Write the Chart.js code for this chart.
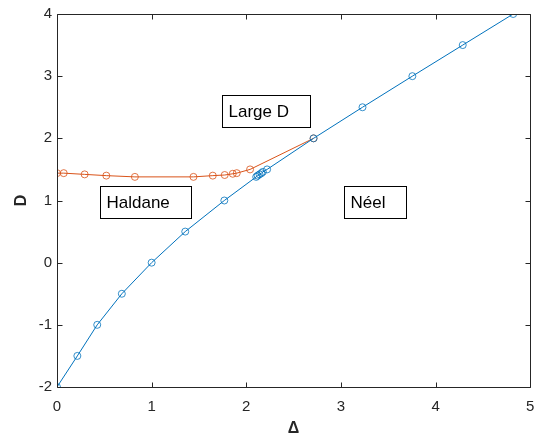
<!DOCTYPE html>
<html>
<head>
<meta charset="utf-8">
<script src="https://cdn.jsdelivr.net/npm/chart.js@4"></script>
<style>
  html, body { margin: 0; padding: 0; background: #fff; }
  #wrap { width: 535px; height: 436px; }
</style>
</head>
<body>
<div id="wrap"><canvas id="phaseChart"></canvas></div>
<script>
// phase boundary lines (Delta, D)
var blueDelta = [0, 0.215, 0.425, 0.685, 1.0, 1.355, 1.768, 2.105, 2.12, 2.14, 2.16, 2.175, 2.22, 2.711, 3.228, 3.755, 4.287, 4.82];
var blueD     = [-2, -1.5, -1, -0.5, 0, 0.5, 1.0, 1.38, 1.40, 1.42, 1.44, 1.46, 1.50, 2.0, 2.5, 3.0, 3.5, 4.0];
var orangeDelta = [0, 0.071, 0.292, 0.521, 0.823, 1.442, 1.646, 1.772, 1.857, 1.899, 2.04, 2.711];
var orangeD     = [1.44, 1.44, 1.42, 1.40, 1.38, 1.38, 1.40, 1.41, 1.43, 1.44, 1.50, 2.0];

var xTicks = [0, 1, 2, 3, 4, 5];
var yTicks = [-2, -1, 0, 1, 2, 3, 4];

// phase labels: text, box corners in data units
var phaseNames = ['Large D', 'Haldane', 'Néel'];
var phaseBoxX  = [[1.74, 2.67], [0.455, 1.415], [3.03, 3.69]];
var phaseBoxY  = [[2.70, 2.19], [1.24, 0.72], [1.24, 0.72]];

function toPoints(xs, ys) {
  return xs.map(function (x, i) { return { x: x, y: ys[i] }; });
}

var axisColor = '#262626';
var fontFamily = 'Liberation Sans, Arial, Helvetica, sans-serif';

var matlabAxes = {
  id: 'matlabAxes',
  afterDatasetsDraw: function (chart) {
    var ctx = chart.ctx;
    var a = chart.chartArea;
    var xs = chart.scales.x, ys = chart.scales.y;
    ctx.save();
    // text boxes
    ctx.font = '17px ' + fontFamily;
    ctx.textBaseline = 'middle';
    ctx.textAlign = 'left';
    phaseNames.forEach(function (name, i) {
      var x0 = Math.round(xs.getPixelForValue(phaseBoxX[i][0])) + 0.5;
      var x1 = Math.round(xs.getPixelForValue(phaseBoxX[i][1])) + 0.5;
      var y0 = Math.round(ys.getPixelForValue(phaseBoxY[i][0])) + 0.5;
      var y1 = Math.round(ys.getPixelForValue(phaseBoxY[i][1])) + 0.5;
      ctx.fillStyle = '#fff';
      ctx.fillRect(x0, y0, x1 - x0, y1 - y0);
      ctx.strokeStyle = '#000';
      ctx.lineWidth = 1;
      ctx.strokeRect(x0, y0, x1 - x0, y1 - y0);
      ctx.fillStyle = '#000';
      ctx.fillText(name, x0 + 6, (y0 + y1) / 2 + 1);
    });
    // box and inward ticks
    ctx.strokeStyle = axisColor;
    ctx.lineWidth = 1;
    var L = Math.round(a.left) + 0.5, R = Math.round(a.right) + 0.5;
    var T = Math.round(a.top) + 0.5, B = Math.round(a.bottom) + 0.5;
    ctx.beginPath();
    ctx.rect(L, T, R - L, B - T);
    xTicks.forEach(function (v) {
      var p = Math.round(xs.getPixelForValue(v)) + 0.5;
      ctx.moveTo(p, B); ctx.lineTo(p, B - 5);
      ctx.moveTo(p, T); ctx.lineTo(p, T + 5);
    });
    yTicks.forEach(function (v) {
      var p = Math.round(ys.getPixelForValue(v)) + 0.5;
      ctx.moveTo(L, p); ctx.lineTo(L + 5, p);
      ctx.moveTo(R, p); ctx.lineTo(R - 5, p);
    });
    ctx.stroke();
    ctx.restore();
  }
};

var ctx = document.getElementById('phaseChart').getContext('2d');
new Chart(ctx, {
  type: 'scatter',
  data: {
    datasets: [{
      label: 'Haldane / Néel',
      data: toPoints(blueDelta, blueD),
      showLine: true,
      borderColor: '#0072BD',
      backgroundColor: 'rgba(0,0,0,0)',
      pointBorderColor: '#0072BD',
      borderWidth: 1,
      pointRadius: 3.5,
      pointBorderWidth: 0.8,
      tension: 0
    }, {
      label: 'Haldane / Large D',
      data: toPoints(orangeDelta, orangeD),
      showLine: true,
      borderColor: '#D95319',
      backgroundColor: 'rgba(0,0,0,0)',
      pointBorderColor: '#D95319',
      borderWidth: 1,
      pointRadius: 3.5,
      pointBorderWidth: 0.8,
      tension: 0
    }]
  },
  options: {
    responsive: true,
    maintainAspectRatio: false,
    animation: false,
    layout: { padding: { top: 14, right: 4, left: 0, bottom: 0 } },
    plugins: {
      legend: { display: false },
      tooltip: { enabled: false }
    },
    scales: {
      x: {
        type: 'linear',
        min: 0,
        max: 5,
        afterFit: function (s) { s.height = 49; s.paddingLeft = 0; s.paddingRight = 0; },
        afterBuildTicks: function (s) { s.ticks = xTicks.map(function (v) { return { value: v }; }); },
        grid: { display: false, drawTicks: false },
        border: { display: false },
        ticks: { color: axisColor, padding: 11, font: { family: fontFamily, size: 15 } },
        title: {
          display: true,
          text: 'Δ',
          color: axisColor,
          padding: { top: 0, bottom: -2 },
          font: { family: fontFamily, size: 16, weight: 'bold' }
        }
      },
      y: {
        type: 'linear',
        min: -2,
        max: 4,
        afterFit: function (s) { s.width = 57; s.paddingTop = 0; s.paddingBottom = 0; },
        afterBuildTicks: function (s) { s.ticks = yTicks.map(function (v) { return { value: v }; }); },
        grid: { display: false, drawTicks: false },
        border: { display: false },
        ticks: { color: axisColor, padding: 5, font: { family: fontFamily, size: 15 } },
        title: {
          display: true,
          text: 'D',
          color: axisColor,
          padding: { top: 12, bottom: 0 },
          font: { family: fontFamily, size: 16, weight: 'bold' }
        }
      }
    }
  },
  plugins: [matlabAxes]
});
</script>
</body>
</html>
